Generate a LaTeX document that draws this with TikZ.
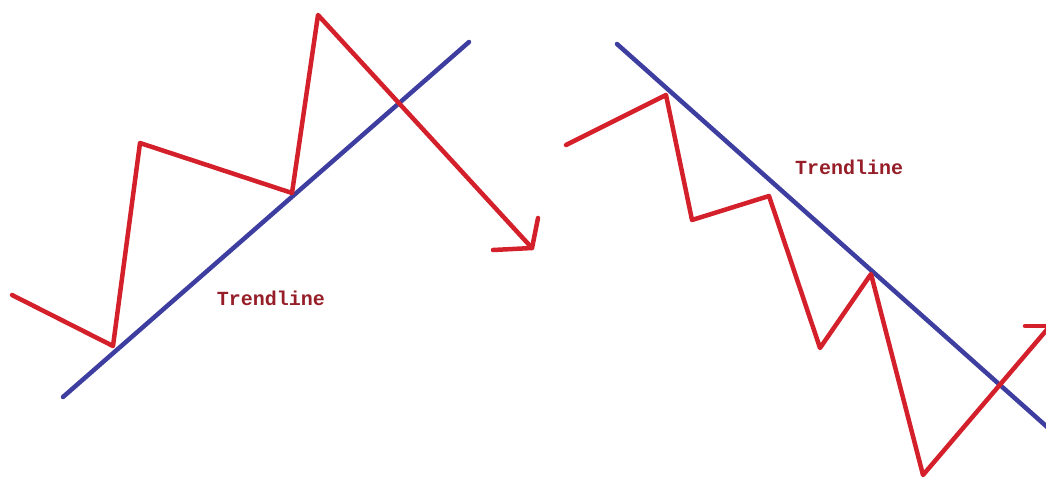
\documentclass[tikz,border=0pt]{standalone}
\usepackage{fontspec}
\newfontfamily\trendfont{Liberation Mono}
\usetikzlibrary{calc}

\definecolor{pricered}{RGB}{212,32,42}
\definecolor{trendblue}{RGB}{62,62,160}
\definecolor{labelred}{RGB}{150,30,40}

\begin{document}
\begin{tikzpicture}[x=1pt, y=-1pt, line join=round, line cap=round,
    price/.style={pricered, line width=4.5pt},
    trend/.style={trendblue, line width=4.5pt},
    label/.style={labelred, font=\trendfont\bfseries\fontsize{20}{22}\selectfont}]

    \useasboundingbox (0,0) rectangle (1046,479);
    \clip (0,0) rectangle (1046,479);

    % Coordinates (uptrend)
    \coordinate (A0) at (12,295);
    \coordinate (A1) at (113,346);
    \coordinate (A2) at (140,143);
    \coordinate (A3) at (292,193);
    \coordinate (A4) at (318,15);
    \coordinate (A5) at (532,248);   % arrow tip
    \coordinate (TA) at (63,397);    % trendline start
    \coordinate (TB) at (469,42);    % trendline end

    % Coordinates (downtrend)
    \coordinate (B0) at (566,145);
    \coordinate (B1) at (666,95);
    \coordinate (B2) at (692,220);
    \coordinate (B3) at (769,196);
    \coordinate (B4) at (820,348);
    \coordinate (B5) at (871,274);
    \coordinate (B6) at (923,475);
    \coordinate (B7) at (1050,326);  % arrow tip, at the edge
    \coordinate (TC) at (617,44);
    \coordinate (TD) at ($(TC)!1.2!(1000,385)$);

    % 1. Trendlines
    \draw[trend] (TA) -- (TB);
    \draw[trend] (TC) -- (TD);

    % 2. Price paths
    \draw[price] (A0) -- (A1) -- (A2) -- (A3) -- (A4) -- (A5);
    \draw[price] (493,250) -- (A5) -- (538,218);

    \draw[price] (B0) -- (B1) -- (B2) -- (B3) -- (B4) -- (B5) -- (B6) -- (B7);
    \draw[price] (1025,326) -- (B7);

    % 3. Labels
    \node[label] (upLabel) at (271,298) {Trendline};
    \node[label] (downLabel) at (849,167) {Trendline};

\end{tikzpicture}
\end{document}
